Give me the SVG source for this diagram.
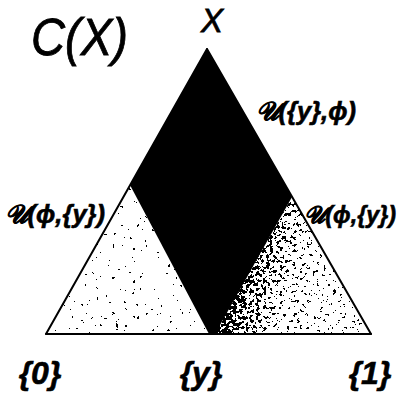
<svg xmlns="http://www.w3.org/2000/svg" width="403" height="397" viewBox="0 0 403 397">
<style>
.lbl{font-family:"Liberation Sans",Arial,sans-serif;font-style:italic;font-weight:bold;fill:#000;stroke:#000;stroke-width:0.6}
.big{font-family:"Liberation Sans",Arial,sans-serif;font-style:italic;fill:#000;stroke:#000;stroke-width:0.8}
.edge{stroke:#000;stroke-width:2;fill:none;stroke-linecap:round}
</style>
<defs>
<filter id="speck" filterUnits="userSpaceOnUse" x="0" y="150" width="403" height="200" color-interpolation-filters="sRGB">
<feTurbulence type="fractalNoise" baseFrequency="0.3" numOctaves="3" seed="11" result="n0"/>
<feColorMatrix in="n0" type="matrix" values="1 0 0 0 0 1 0 0 0 0 1 0 0 0 0 0 0 0 0 1" result="n"/>
<feComposite in="SourceGraphic" in2="n" operator="arithmetic" k1="0" k2="1" k3="2.6" k4="-1.3" result="s"/>
<feComponentTransfer in="s">
<feFuncR type="discrete" tableValues="0 1"/>
<feFuncG type="discrete" tableValues="0 1"/>
<feFuncB type="discrete" tableValues="0 1"/>
<feFuncA type="linear" slope="0" intercept="1"/>
</feComponentTransfer>
</filter>
<filter id="speckL" filterUnits="userSpaceOnUse" x="0" y="150" width="403" height="200" color-interpolation-filters="sRGB">
<feTurbulence type="fractalNoise" baseFrequency="0.25" numOctaves="3" seed="5" result="n0"/>
<feColorMatrix in="n0" type="matrix" values="1 0 0 0 0 1 0 0 0 0 1 0 0 0 0 0 0 0 0 1" result="n"/>
<feComposite in="SourceGraphic" in2="n" operator="arithmetic" k1="0" k2="1" k3="1.8" k4="-0.9" result="s"/>
<feComponentTransfer in="s">
<feFuncR type="discrete" tableValues="0 1"/>
<feFuncG type="discrete" tableValues="0 1"/>
<feFuncB type="discrete" tableValues="0 1"/>
<feFuncA type="linear" slope="0" intercept="1"/>
</feComponentTransfer>
</filter>
<linearGradient id="rg" gradientUnits="userSpaceOnUse" x1="238" y1="275" x2="320" y2="300">
<stop offset="0" stop-color="#585858"/>
<stop offset="0.3" stop-color="#a0a0a0"/>
<stop offset="0.65" stop-color="#f0f0f0"/>
<stop offset="1" stop-color="#ffffff"/>
</linearGradient>
<clipPath id="lc"><polygon points="130,185 46,334 210,334"/></clipPath>
<clipPath id="rc"><polygon points="292,197 214,334 371,334"/></clipPath>
</defs>
<g id="left-region" clip-path="url(#lc)">
<rect x="40" y="180" width="180" height="160" fill="#eeeeee" filter="url(#speckL)"/>
</g>
<g id="right-region" clip-path="url(#rc)">
<rect x="205" y="190" width="170" height="150" fill="url(#rg)" filter="url(#speck)"/>
</g>
<g id="diamond">
<polygon points="207,49 130,185 209,334 215,334 292,197" fill="#000"/>
</g>
<g id="connectors">
<line class="edge" x1="207" y1="49" x2="46" y2="334"/>
<line class="edge" x1="207" y1="49" x2="371" y2="334"/>
<line class="edge" x1="46" y1="334" x2="371" y2="334"/>
</g>
<g id="title"><text class="big" x="31" y="55" font-size="52" textLength="97" lengthAdjust="spacingAndGlyphs">C(X)</text></g>
<g id="apex"><text class="big" x="212" y="32" font-size="33" text-anchor="middle">X</text></g>
<g id="label-top"><text class="lbl" x="256" y="120" font-size="26" textLength="100" lengthAdjust="spacingAndGlyphs">𝒰({y},ϕ)</text></g>
<g id="label-left"><text class="lbl" x="5" y="223" font-size="26" textLength="100" lengthAdjust="spacingAndGlyphs">𝒰(ϕ,{y})</text></g>
<g id="label-right"><text class="lbl" x="304" y="223" font-size="24" textLength="92" lengthAdjust="spacingAndGlyphs">𝒰(ϕ,{y})</text></g>
<g id="v0"><text class="lbl" x="40" y="384" font-size="32" text-anchor="middle">{0}</text></g>
<g id="vy"><text class="lbl" x="201" y="384" font-size="32" text-anchor="middle">{y}</text></g>
<g id="v1"><text class="lbl" x="370" y="384" font-size="32" text-anchor="middle">{1}</text></g>
</svg>
